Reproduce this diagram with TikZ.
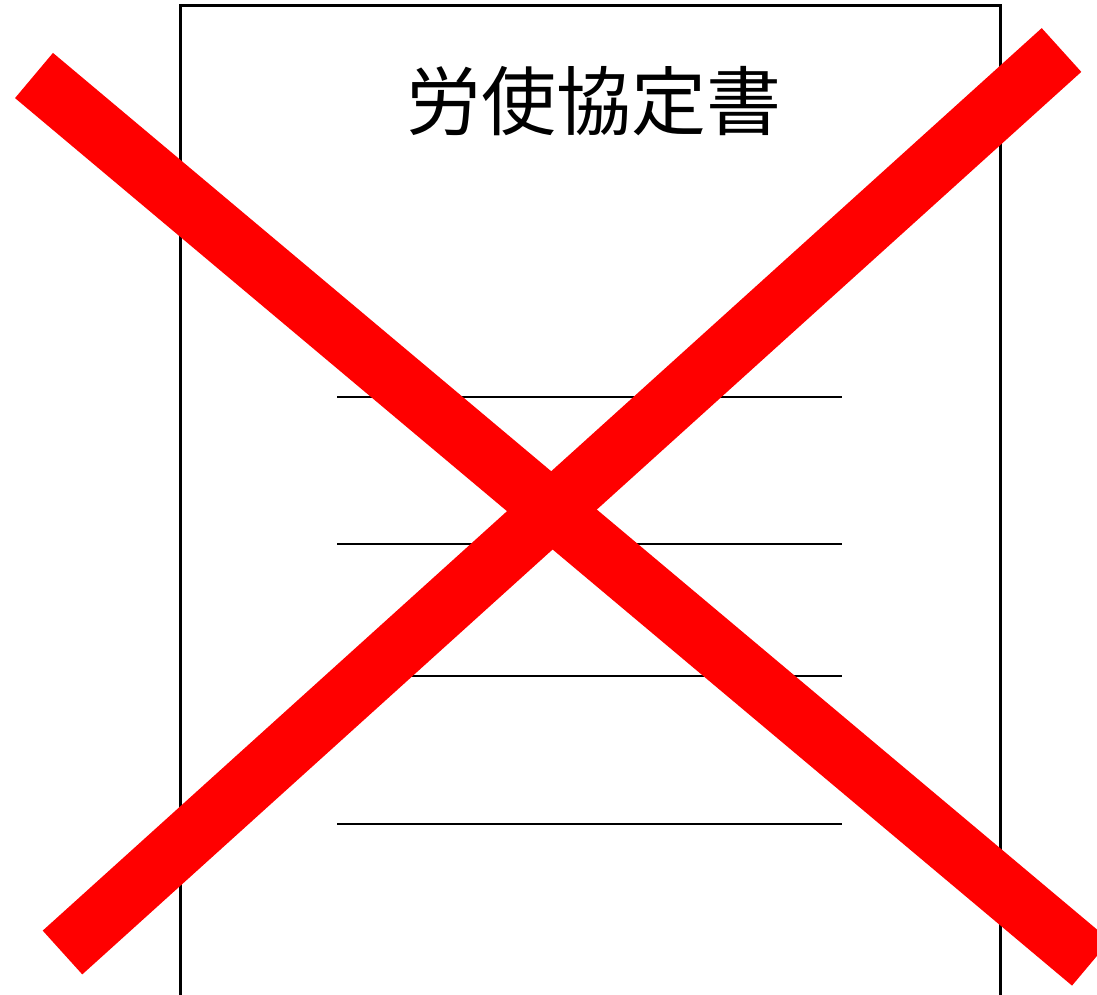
\documentclass[tikz,border=0pt]{standalone}
\usepackage{fontspec}
\newfontfamily\cjk{Noto Sans CJK JP}
\tikzset{
  docframe/.style={draw=black, line width=3pt},
  ruleline/.style={draw=black, line width=2pt},
  crossbar/.style={draw={rgb,255:red,255;green,0;blue,0}, line width=59pt, line cap=butt},
  titletext/.style={font=\cjk\fontsize{75pt}{85pt}\selectfont, inner sep=0pt}
}
\begin{document}
\begin{tikzpicture}[x=1pt,y=-1pt]
\useasboundingbox (0,0) rectangle (1097,995);
\clip (0,0) rectangle (1097,995);
\draw[docframe] (180,1020) -- (180,6) -- (1000,6) -- (1000,1020);
\node[titletext] (title) at (594,101) {労使協定書};
\foreach \y in {397,544,676,824} {
  \draw[ruleline] (337,\y) -- (842,\y);
}
\coordinate (a1) at (34,75.5);
\coordinate (a2) at (1091,963);
\coordinate (b1) at (1061.5,50);
\coordinate (b2) at (62.5,952.5);
\draw[crossbar] (a1) -- (a2);
\draw[crossbar] (b1) -- (b2);
\end{tikzpicture}
\end{document}
